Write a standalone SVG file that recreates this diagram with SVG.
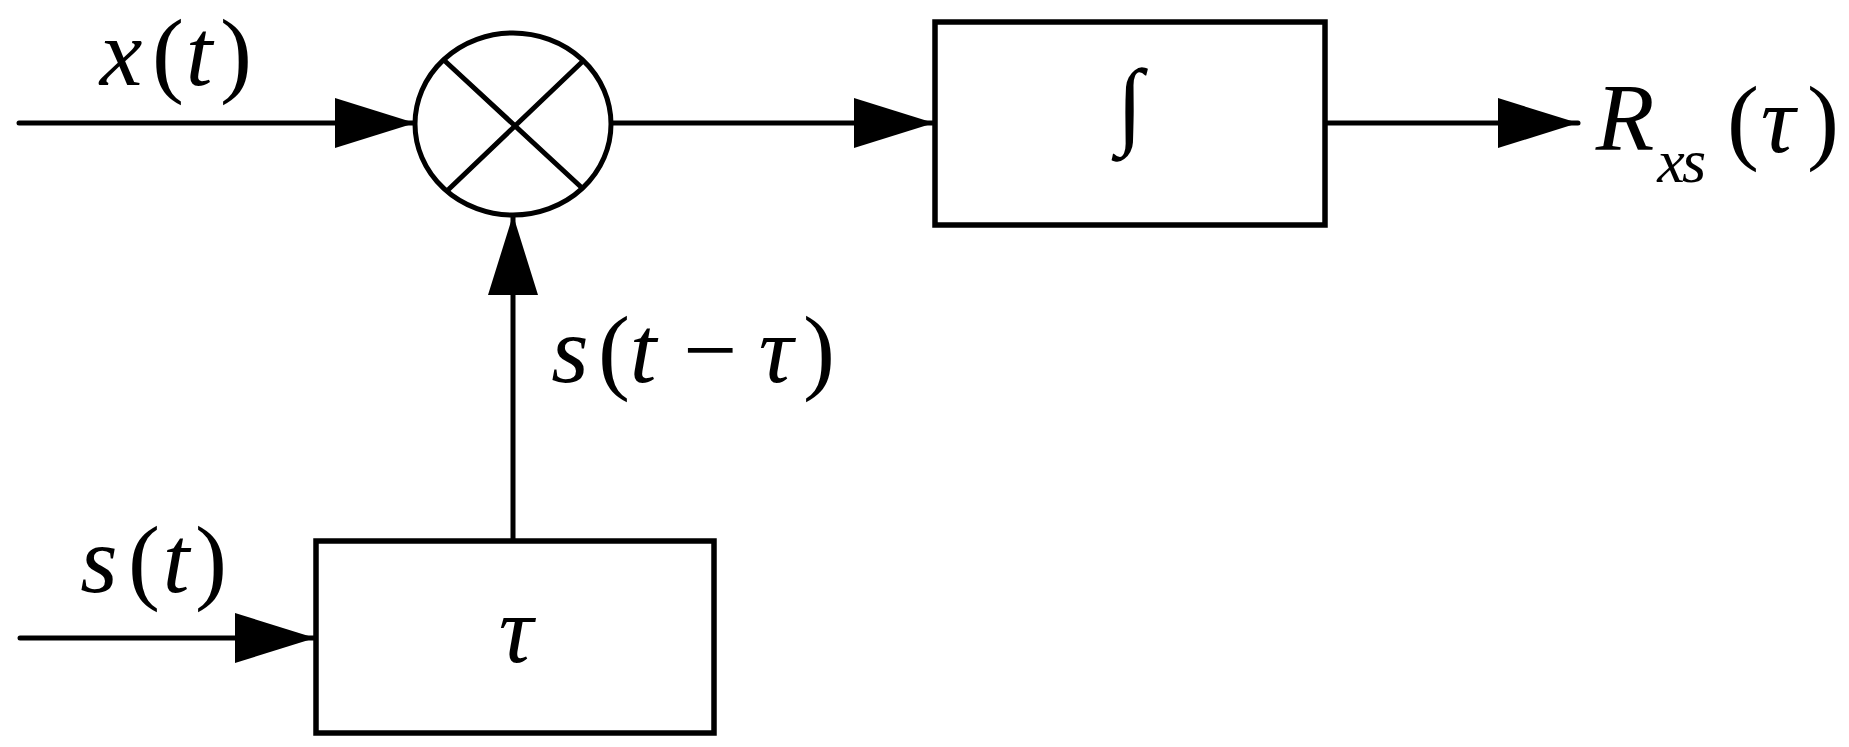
<svg xmlns="http://www.w3.org/2000/svg" width="1849" height="747" viewBox="0 0 1849 747">
<defs>
<style>
.ln{fill:none;stroke:#000;stroke-width:5;stroke-linecap:round}
.bx{fill:#fff;stroke:#000;stroke-width:5.5}
.t{font-family:"Liberation Serif","Times New Roman",serif;font-size:96px;fill:#000;text-anchor:middle}
.i{font-style:italic}
</style>
<marker id="ah" markerUnits="userSpaceOnUse" markerWidth="82" markerHeight="52" refX="80" refY="25" orient="auto" viewBox="0 0 82 52">
<path d="M0,0 L80,25 L0,50 z" fill="#000"/>
</marker>
</defs>
<rect width="1849" height="747" fill="#fff"/>
<g id="connectors">
<path class="ln" d="M19,123 L415,123" marker-end="url(#ah)"/>
<path class="ln" d="M611,123 L934,123" marker-end="url(#ah)"/>
<path class="ln" d="M1325,123 L1578,123" marker-end="url(#ah)"/>
<path class="ln" d="M20,638 L315,638" marker-end="url(#ah)"/>
<path class="ln" d="M513,541 L513,215" marker-end="url(#ah)"/>
</g>
<g id="multiplier">
<ellipse cx="513" cy="124" rx="98" ry="91" fill="#fff" stroke="#000" stroke-width="5"/>
<path class="ln" d="M446,62 L581,187 M582,62 L449,189"/>
</g>
<g id="integrator">
<rect class="bx" x="935" y="22" width="390" height="203"/>
<text class="t" x="1130" y="136" font-size="89">∫</text>
</g>
<g id="delay">
<rect class="bx" x="316" y="541" width="398" height="192"/>
<text class="t i" x="516" y="662">τ</text>
</g>
<g id="labels">
<text class="t"><tspan class="i" x="121" y="85">x</tspan><tspan x="168" y="85">(</tspan><tspan class="i" x="199" y="85">t</tspan><tspan x="236" y="85">)</tspan></text>
<text class="t"><tspan class="i" x="570" y="382">s</tspan><tspan x="614" y="382">(</tspan><tspan class="i" x="643" y="382">t</tspan><tspan x="710" y="382">−</tspan><tspan class="i" x="776" y="382">τ</tspan><tspan x="819" y="382">)</tspan></text>
<text class="t"><tspan class="i" x="99" y="592">s</tspan><tspan x="144" y="592">(</tspan><tspan class="i" x="176" y="592">t</tspan><tspan x="211" y="592">)</tspan></text>
<text class="t"><tspan class="i" x="1625" y="150">R</tspan><tspan class="i" x="1671" y="182" font-size="62">x</tspan><tspan class="i" x="1694" y="182" font-size="62">s</tspan><tspan x="1743" y="152">(</tspan><tspan class="i" x="1778" y="152">τ</tspan><tspan x="1823" y="152">)</tspan></text>
</g>
</svg>
